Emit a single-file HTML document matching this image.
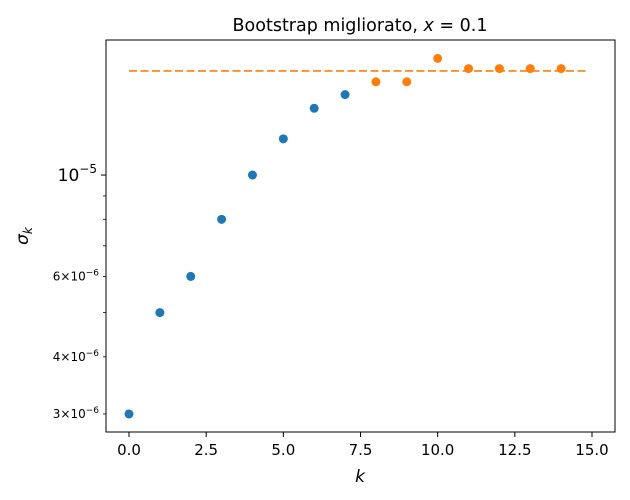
<!DOCTYPE html>
<html><head><meta charset="utf-8"><style>
body{margin:0;background:#fff;}
svg{display:block;font-family:"DejaVu Sans","Liberation Sans",sans-serif;}
</style></head><body>
<svg id="chart" width="630" height="500">
<rect width="630" height="500" fill="#fff"/>
<text x="360" y="31" font-size="17.5" text-anchor="middle">Bootstrap migliorato, <tspan font-style="italic">x</tspan> = 0.1</text>
<g id="axes"></g>
<g id="marks"></g>
<rect x="106" y="40" width="509" height="392" fill="none" stroke="#000" stroke-width="1"/>
<text x="360" y="482" font-size="17" font-style="italic" text-anchor="middle">k</text>
<text x="0" y="0" font-size="17" font-style="italic" text-anchor="middle" transform="translate(28,236) rotate(-90)">σ<tspan font-size="12" dy="4">k</tspan></text>
</svg>
<script>
const blueK=[0,1,2,3,4,5,6,7];
const blueVals=[3e-6,5e-6,6e-6,8e-6,1e-5,1.2e-5,1.4e-5,1.5e-5];
const orangeK=[8,9,10,11,12,13,14];
const orangeVals=[1.6e-5,1.6e-5,1.8e-5,1.71e-5,1.71e-5,1.71e-5,1.71e-5];
const plateau=1.69e-5;
const plateauRange=[0,14.9];
const xTicks=[0,2.5,5,7.5,10,12.5,15];
const xTickLabels=["0.0","2.5","5.0","7.5","10.0","12.5","15.0"];
const yMinor=[3e-6,4e-6,5e-6,6e-6,7e-6,8e-6,9e-6];
const yMinorLabels={3:"3",4:"4",6:"6"};

const NS="http://www.w3.org/2000/svg";
const X0=129,XS=(592-129)/15;
const yTop=40,yBot=432,lmin=Math.log10(2.739e-6),lmax=Math.log10(1.975e-5);
const xs=v=>X0+v*XS;
const ys=v=>yBot-(Math.log10(v)-lmin)/(lmax-lmin)*(yBot-yTop);
function mk(t,a,p){const e=document.createElementNS(NS,t);for(const k in a)e.setAttribute(k,a[k]);p.appendChild(e);return e;}
const ax=document.getElementById('axes'),mg=document.getElementById('marks');
xTicks.forEach((t,i)=>{
 const l=mk('line',{x1:xs(t),x2:xs(t),y1:432,y2:437,stroke:'#000'},ax);
 
 
 const tx=mk('text',{x:xs(t),y:455,'font-size':15,'text-anchor':'middle'},ax);
 tx.textContent=xTickLabels[i];
 
 
});
{const l=mk('line',{x1:101,x2:106,y1:ys(1e-5),y2:ys(1e-5),stroke:'#000'},ax);
 
 
 const t=mk('text',{x:97,y:ys(1e-5)+6,'font-size':17,'text-anchor':'end'},ax);
 t.innerHTML='10<tspan font-size="12" dy="-8">−5</tspan>';
 
 }
yMinor.forEach(v=>{
 const l=mk('line',{x1:103,x2:106,y1:ys(v),y2:ys(v),stroke:'#000','stroke-width':0.8},ax);
 
 
 const m=Math.round(v*1e6);
 if(yMinorLabels[m]){
  const t=mk('text',{x:99,y:ys(v)+4,'font-size':12,'text-anchor':'end'},ax);
  t.innerHTML=yMinorLabels[m]+'×10<tspan font-size="9" dy="-5">−6</tspan>';
  
  
 }
});
const dl=mk('line',{x1:xs(plateauRange[0]),x2:xs(plateauRange[1]),y1:ys(plateau),y2:ys(plateau),stroke:'#ff7f0e','stroke-width':1.6,'stroke-dasharray':'8,3.5'},mg);


blueK.forEach((k,i)=>{
 const c=mk('circle',{cx:xs(k),cy:ys(blueVals[i]),r:4.5,fill:'#1f77b4'},mg);
 
 
});
orangeK.forEach((k,i)=>{
 const c=mk('circle',{cx:xs(k),cy:ys(orangeVals[i]),r:4.5,fill:'#ff7f0e'},mg);
 
 
});
</script>
</body></html>
